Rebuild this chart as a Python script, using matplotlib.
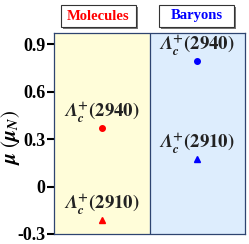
import matplotlib.pyplot as plt
from matplotlib.patches import Rectangle

plt.rcParams['mathtext.fontset'] = 'stix'
plt.rcParams['font.family'] = 'Liberation Serif'

groups = ["Molecules", "Baryons"]
group_colors = ["red", "blue"]
states = [r"$\mathbfit{\Lambda}_{\mathbfit{c}}^{\mathbf{+}}\mathbf{(2940)}$",
          r"$\mathbfit{\Lambda}_{\mathbfit{c}}^{\mathbf{+}}\mathbf{(2910)}$"]
# magnetic moments (mu_N): [2940, 2910] for each group
moments = {
    "Molecules": [0.37, -0.21],
    "Baryons": [0.79, 0.175],
}
markers = ["o", "^"]
yticks = [-0.3, 0, 0.3, 0.6, 0.9]
ytick_labels = ["-0.3", "0", "0.3", "0.6", "0.9"]

W, H = 249, 244
fig = plt.figure(figsize=(W / 100, H / 100), dpi=100)
ax = fig.add_axes([54 / W, 10 / H, 191 / W, 201 / H])

ax.axvspan(0, 1, color="#FFFDD9", zorder=0)
ax.axvspan(1, 2, color="#DDEDFD", zorder=0)
ax.axvline(1, color="#2E4470", lw=0.9)

for i, g in enumerate(groups):
    x = i + 0.5
    for j, val in enumerate(moments[g]):
        ax.plot(x, val, marker=markers[j], color=group_colors[i], ms=4, ls="none", zorder=3)
        ax.text(x, val + 0.02, states[j], ha="center", va="bottom",
                fontsize=13.5, color="#222222", zorder=2)

ax.set_xlim(0, 2)
ax.set_ylim(-0.3, 0.97)
ax.set_xticks([])
ax.set_yticks(yticks)
ax.set_yticklabels(ytick_labels, fontsize=13, fontweight="bold")
ax.tick_params(axis="y", direction="out", length=5, width=1.5, pad=1)
for s in ax.spines.values():
    s.set_color("#2E4470")
    s.set_linewidth(0.9)
ax.set_ylabel(r"$\mathbfit{\mu}\ (\mathbfit{\mu}_{\mathbfit{N}})$", fontsize=15)
ax.yaxis.set_label_coords(-0.165, 0.48)

# group title boxes (pixel positions from the top-left corner)
for i, g in enumerate(groups):
    x0 = 61 if i == 0 else 159
    bx, by, bw, bh = x0 / W, (H - 27) / H, 75 / W, 22 / H
    fig.patches.append(Rectangle((bx + 2 / W, by - 2 / H), bw, bh, transform=fig.transFigure,
                                 fc="#777777", ec="none", zorder=1))
    fig.patches.append(Rectangle((bx, by), bw, bh, transform=fig.transFigure,
                                 fc="white", ec="#333333", lw=0.8, zorder=2))
    fig.text(bx + bw / 2, by + bh / 2, g, ha="center", va="center", fontsize=10.5,
             fontweight="bold", color=group_colors[i], zorder=3)

fig.savefig("out.png", dpi=100)
